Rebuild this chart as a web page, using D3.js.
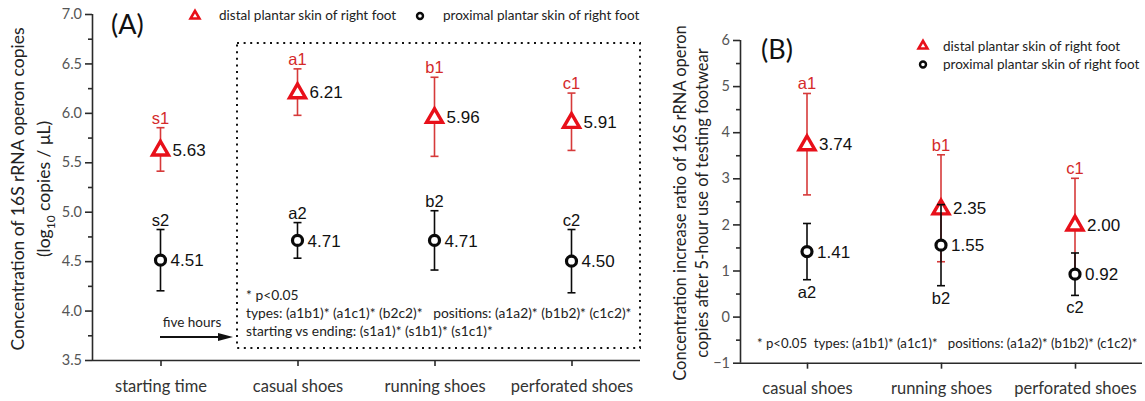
<!DOCTYPE html>
<html>
<head>
<meta charset="utf-8">
<script src="https://cdn.jsdelivr.net/npm/d3@7"></script>
<style>
  body { margin: 0; background: #fff; }
  svg { display: block; }
  text.note { white-space: pre; }
</style>
</head>
<body>
<svg id="chart" width="1145" height="401"></svg>
<script>
// ---- Panel A: absolute concentration (log10 copies / µL) ----
const categoriesA = ["starting time", "casual shoes", "running shoes", "perforated shoes"];
const distalA = [5.63, 6.21, 5.96, 5.91];
const distalErrA = [0.22, 0.235, 0.40, 0.29];
const proximalA = [4.51, 4.71, 4.71, 4.50];
const proximalErrA = [0.31, 0.18, 0.30, 0.32];
const distalTagsA = ["s1", "a1", "b1", "c1"];
const proximalTagsA = ["s2", "a2", "b2", "c2"];
const yTicksA = [3.5, 4.0, 4.5, 5.0, 5.5, 6.0, 6.5, 7.0];
const yMinorA = [3.75, 4.25, 4.75, 5.25, 5.75, 6.25, 6.75];

// ---- Panel B: increase ratio after 5 hours of wear ----
const categoriesB = ["casual shoes", "running shoes", "perforated shoes"];
const distalB = [3.74, 2.35, 2.00];
const distalErrB = [1.10, 1.16, 1.00];
const proximalB = [1.41, 1.55, 0.92];
const proximalErrB = [0.61, 0.88, 0.46];
const distalTagsB = ["a1", "b1", "c1"];
const proximalTagsB = ["a2", "b2", "c2"];
const yTicksB = [-1, 0, 1, 2, 3, 4, 5, 6];
const yMinorB = [-0.5, 0.5, 1.5, 2.5, 3.5, 4.5, 5.5];

const legendLabels = ["distal plantar skin of right foot", "proximal plantar skin of right foot"];
const notesA = ["* p<0.05",
  "types: (a1b1)* (a1c1)* (b2c2)*   positions: (a1a2)* (b1b2)* (c1c2)*",
  "starting vs ending: (s1a1)* (s1b1)* (s1c1)*"];
const noteB = "* p<0.05  types: (a1b1)* (a1c1)*   positions: (a1a2)* (b1b2)* (c1c2)*";

const RED = "#e8101a";
const RED_BAR = "#d63a3a";
const BLACK = "#0a0a0a";
const SANS = "Lato, 'Open Sans', sans-serif";
const ARIAL = "'Liberation Sans', Arial, sans-serif";

const svg = d3.select("#chart");
const tri = d3.symbol().type(d3.symbolTriangle);

function drawAxes(g, x, y, majors, minors, fmt, x0, x1) {
  const yAxis = g.append("g").attr("transform", `translate(${x0},0)`)
    .call(d3.axisLeft(y).tickValues(majors).tickFormat(fmt).tickSize(7).tickPadding(3));
  const yMinor = g.append("g").attr("transform", `translate(${x0},0)`)
    .call(d3.axisLeft(y).tickValues(minors).tickFormat("").tickSize(4));
  yMinor.select(".domain").remove();
  const xAxis = g.append("g").attr("transform", `translate(0,${y.range()[0]})`)
    .call(d3.axisBottom(x).tickSize(6).tickPadding(14).tickSizeOuter(0));
  xAxis.select(".domain").attr("d", `M${x0},0.5H${x1}`);
  [yAxis, yMinor, xAxis].forEach(a => {
    a.selectAll(".domain, line").attr("stroke", "#2a2a2a").attr("stroke-width", 1.6);
  });
  yAxis.selectAll("text").attr("font-family", SANS).attr("font-size", 14.5).attr("fill", "#555");
  xAxis.selectAll("text").attr("font-family", SANS).attr("font-size", 16.5).attr("fill", "#333");
  yAxis.select(".domain").attr("d", `M0.5,${y.range()[0]}V${y.range()[1]}`);
}

function errorBars(g, x, y, cats, vals, errs, color) {
  cats.forEach((c, i) => {
    const cx = x(c), top = y(vals[i] + errs[i]), bot = y(vals[i] - errs[i]);
    g.append("line").attr("x1", cx).attr("x2", cx).attr("y1", top).attr("y2", bot)
      .attr("stroke", color).attr("stroke-width", 1.6);
    [top, bot].forEach(yy => g.append("line").attr("x1", cx - 4).attr("x2", cx + 4)
      .attr("y1", yy).attr("y2", yy).attr("stroke", color).attr("stroke-width", 1.6));
  });
}

function triMarkers(g, x, y, cats, vals) {
  g.selectAll(null).data(cats).join("path")
    .attr("d", tri.size(110)())
    .attr("transform", (c, i) => `translate(${x(c)},${y(vals[i]) + 1})`)
    .attr("fill", "#fff").attr("stroke", RED).attr("stroke-width", 3.4)
    .attr("stroke-linejoin", "miter");
}

function circMarkers(g, x, y, cats, vals) {
  g.selectAll(null).data(cats).join("circle")
    .attr("cx", c => x(c)).attr("cy", (c, i) => y(vals[i])).attr("r", 5)
    .attr("fill", "#fff").attr("stroke", BLACK).attr("stroke-width", 3.2);
}

function valueLabels(g, x, y, cats, vals, dx) {
  g.selectAll(null).data(cats).join("text")
    .attr("x", c => x(c) + dx).attr("y", (c, i) => y(vals[i]))
    .attr("dy", "0.36em").attr("font-family", ARIAL).attr("font-size", 17)
    .attr("fill", "#111").text((c, i) => vals[i].toFixed(2));
}

function tagLabels(g, x, y, cats, vals, errs, tags, color, below) {
  g.selectAll(null).data(cats).join("text")
    .attr("x", c => x(c))
    .attr("y", (c, i) => below ? y(vals[i] - errs[i]) + 18 : y(vals[i] + errs[i]) - 4)
    .attr("text-anchor", "middle").attr("font-family", ARIAL).attr("font-size", 16.5)
    .attr("fill", color).text((c, i) => tags[i]);
}

// ================= Panel A =================
const gA = svg.append("g");
const xA = d3.scalePoint().domain(categoriesA).range([92, 640]).padding(0.5);
const yA = d3.scaleLinear().domain([3.5, 7]).range([360, 14]);
drawAxes(gA, xA, yA, yTicksA, yMinorA, d3.format(".1f"), 92, 640);

// y title
const tA = gA.append("text").attr("transform", "translate(24,189) rotate(-90)")
  .attr("text-anchor", "middle").attr("font-family", SANS).attr("font-size", 17.5).attr("fill", "#222");
tA.append("tspan").attr("x", 0).attr("dy", 0).text("Concentration of 16S rRNA operon copies");
const l2 = tA.append("tspan").attr("x", 0).attr("dy", 26).text("(log");
l2.append("tspan").attr("font-size", 12).attr("dy", 5).text("10");
l2.append("tspan").attr("dy", -5).text(" copies / \u03bcL)");

gA.append("text").attr("x", 111).attr("y", 34).attr("font-family", SANS)
  .attr("font-size", 27).attr("fill", "#111").text("(A)");

// legend row
const lgA = gA.append("g");
lgA.append("path").attr("d", tri.size(34)()).attr("transform", "translate(195,16)")
  .attr("fill", "#fff").attr("stroke", RED).attr("stroke-width", 2.6);
lgA.append("text").attr("x", 219).attr("y", 20).attr("font-family", SANS).attr("font-size", 13.5)
  .attr("fill", "#222").text(legendLabels[0]);
lgA.append("circle").attr("cx", 420).attr("cy", 16).attr("r", 3)
  .attr("fill", "#fff").attr("stroke", BLACK).attr("stroke-width", 2.4);
lgA.append("text").attr("x", 443).attr("y", 20).attr("font-family", SANS).attr("font-size", 13.5)
  .attr("fill", "#222").text(legendLabels[1]);

// dotted frame around the post-wear groups
gA.append("rect").attr("x", 237).attr("y", 43).attr("width", 403).attr("height", 305)
  .attr("fill", "none").attr("stroke", "#111").attr("stroke-width", 2)
  .attr("stroke-dasharray", "2,4.6");

// notes inside frame
notesA.forEach((t, i) => {
  gA.append("text").attr("class", "note").attr("x", 246).attr("y", 300 + i * 18)
    .attr("font-family", SANS).attr("font-size", 13.8).attr("fill", "#222").text(t);
});

// five-hour arrow
gA.append("text").attr("x", 192).attr("y", 327).attr("text-anchor", "middle")
  .attr("font-family", SANS).attr("font-size", 13.5).attr("fill", "#222").text("five hours");
gA.append("line").attr("x1", 160).attr("x2", 222).attr("y1", 337).attr("y2", 337)
  .attr("stroke", "#111").attr("stroke-width", 2);
gA.append("path").attr("d", "M218,333L233,337L218,341Z").attr("fill", "#111");

errorBars(gA, xA, yA, categoriesA, distalA, distalErrA, RED_BAR);
triMarkers(gA, xA, yA, categoriesA, distalA);
errorBars(gA, xA, yA, categoriesA, proximalA, proximalErrA, BLACK);
circMarkers(gA, xA, yA, categoriesA, proximalA);
valueLabels(gA, xA, yA, categoriesA, distalA, 12);
valueLabels(gA, xA, yA, categoriesA, proximalA, 10);
tagLabels(gA, xA, yA, categoriesA, distalA, distalErrA, distalTagsA, "#d42a2a", false);
tagLabels(gA, xA, yA, categoriesA, proximalA, proximalErrA, proximalTagsA, "#111", false);

// ================= Panel B =================
const gB = svg.append("g");
const xB = d3.scalePoint().domain(categoriesB).range([740, 1142]).padding(0.5);
const yB = d3.scaleLinear().domain([-1, 6]).range([362.7, 40]);
drawAxes(gB, xB, yB, yTicksB, yMinorB, d3.format("d"), 740, 1142);

const tB = gB.append("text").attr("transform", "translate(686,203) rotate(-90)")
  .attr("text-anchor", "middle").attr("font-family", SANS).attr("font-size", 16.5).attr("fill", "#222");
tB.append("tspan").attr("x", 0).attr("dy", 0).text("Concentration increase ratio of 16S rRNA operon");
tB.append("tspan").attr("x", 0).attr("dy", 22).text("copies after 5-hour use of testing footwear");

gB.append("text").attr("x", 761).attr("y", 59).attr("font-family", SANS)
  .attr("font-size", 27).attr("fill", "#111").text("(B)");

const lgB = gB.append("g");
lgB.append("path").attr("d", tri.size(34)()).attr("transform", "translate(923,46)")
  .attr("fill", "#fff").attr("stroke", RED).attr("stroke-width", 2.6);
lgB.append("text").attr("x", 943).attr("y", 51).attr("font-family", SANS).attr("font-size", 13.5)
  .attr("fill", "#222").text(legendLabels[0]);
lgB.append("circle").attr("cx", 923).attr("cy", 64.5).attr("r", 3)
  .attr("fill", "#fff").attr("stroke", BLACK).attr("stroke-width", 2.4);
lgB.append("text").attr("x", 943).attr("y", 69).attr("font-family", SANS).attr("font-size", 13.5)
  .attr("fill", "#222").text(legendLabels[1]);

gB.append("text").attr("class", "note").attr("x", 757).attr("y", 348).attr("font-family", SANS)
  .attr("font-size", 13.2).attr("fill", "#222").text(noteB);

errorBars(gB, xB, yB, categoriesB, distalB, distalErrB, RED_BAR);
triMarkers(gB, xB, yB, categoriesB, distalB);
errorBars(gB, xB, yB, categoriesB, proximalB, proximalErrB, BLACK);
circMarkers(gB, xB, yB, categoriesB, proximalB);
valueLabels(gB, xB, yB, categoriesB, distalB, 12);
valueLabels(gB, xB, yB, categoriesB, proximalB, 10);
tagLabels(gB, xB, yB, categoriesB, distalB, distalErrB, distalTagsB, "#d42a2a", false);
tagLabels(gB, xB, yB, categoriesB, proximalB, proximalErrB, proximalTagsB, "#111", true);
</script>
</body>
</html>
